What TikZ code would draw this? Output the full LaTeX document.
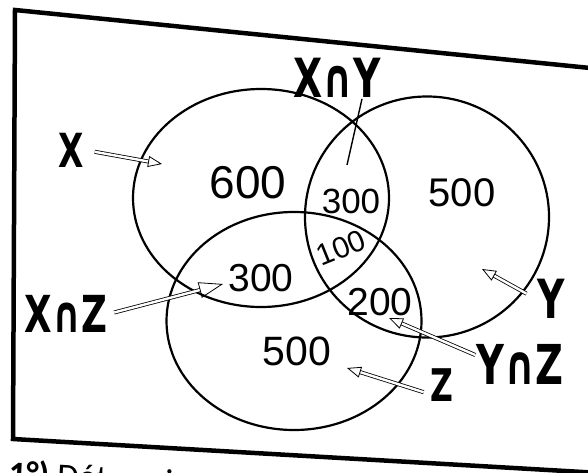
\documentclass[tikz,border=0pt]{standalone}
\usepackage{fontspec}
\setmainfont{Liberation Sans}
\newfontfamily\numfont{Liberation Sans}
\newfontfamily\labelfont{DejaVu Sans}[FakeStretch=0.7]
\newfontfamily\notefont{Carlito}
\usetikzlibrary{arrows.meta, shapes.geometric}
\tikzset{
  frame/.style = {line width=4.5pt, line join=miter},
  set/.style = {draw, ellipse, line width=2.2pt, inner sep=0pt},
  count/.style = {inner sep=0pt, font={\numfont\fontsize{#1}{#1}\selectfont}},
  set label/.style = {inner sep=1pt, font={\labelfont\bfseries\fontsize{#1}{#1}\selectfont}},
  pointer/.style = {line width=0.8pt, double=white, double distance=2.4pt,
                    arrows={-Triangle[open, length=14pt, width=11pt]}},
  big pointer/.style = {pointer, arrows={-Triangle[open, length=24pt, width=16pt]}},
  tick/.style = {line width=1.4pt},
}

\begin{document}
\begin{tikzpicture}[x=1pt, y=-1pt]
  %% Fix the picture to the size of the photo and cut everything at its edge
  \useasboundingbox (0,0) rectangle (588,473);
  \clip (0,0) rectangle (588,473);

  %% The skewed frame, which runs out of the picture on the right
  \draw [frame] (600,69) -- (15,10) -- (13,439) -- (600,473);

  %% The three sets
  \node [set, minimum width=256pt, minimum height=218pt] (X) at (261,198) {};
  \node [set, minimum width=244pt, minimum height=241pt] (Y) at (427,217) {};
  \node [set, minimum width=255pt, minimum height=218pt] (Z) at (294,321) {};

  %% Counts in the regions
  \node [count=46] (X_only) at (248,183) {600};
  \node [count=35] (XY_only) at (351,201) {300};
  \node [count=40] (Y_only) at (462,193) {500};
  \node [count=30, rotate=22] (XYZ) at (341,248) {100};
  \node [count=39] (XZ_only) at (261,278) {300};
  \node [count=39] (YZ_only) at (380,302) {200};
  \node [count=41] (Z_only) at (297,351) {500};

  %% Labels and where their pointers end
  \node [set label=47] (X_label) at (71,150) {X};
  \node [set label=54] (XY_label) at (337,78) {X∩Y};
  \node [set label=51] (XZ_label) at (66,314) {X∩Z};
  \node [set label=54] (Y_label) at (551,299) {Y};
  \node [set label=55] (YZ_label) at (520,364) {Y∩Z};
  \node [set label=45] (Z_label) at (442,385) {Z};
  \coordinate (X_tip) at (162,164);
  \coordinate (XY_tip) at (347,165);
  \coordinate (XZ_tip) at (223,284);
  \coordinate (Y_tip) at (482,269);
  \coordinate (YZ_tip) at (389,318);
  \coordinate (Z_tip) at (347,368);

  \draw [pointer, shorten <=10pt] (X_label.east) -- (X_tip);
  \draw [tick] ([xshift=25pt]XY_label.south) -- (XY_tip);
  \draw [big pointer, shorten <=6pt] (XZ_label.east) -- (XZ_tip);
  \draw [pointer, shorten <=11pt] (Y_label.west) -- (Y_tip);
  \draw [pointer] ([yshift=9pt]YZ_label.west) -- (YZ_tip);
  \draw [pointer, shorten <=6pt] ([yshift=-9pt]Z_label.west) -- (Z_tip);

  %% The question under the frame, cut by the lower edge
  \node [anchor=base west, rotate=-3, inner sep=0pt,
         font={\notefont\fontsize{35}{35}\selectfont}] (question) at (8,485)
        {\textbf{1°)} Déterminer};
\end{tikzpicture}
\end{document}
